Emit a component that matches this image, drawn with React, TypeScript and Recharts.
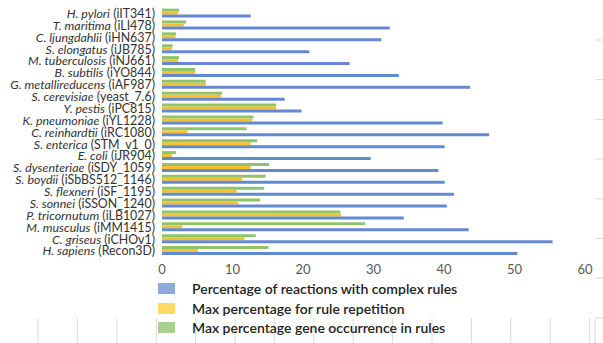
import { BarChart, Bar, XAxis, YAxis } from 'recharts';

const species = [
  'H. pylori', 'T. maritima', 'C. ljungdahlii', 'S. elongatus', 'M. tuberculosis',
  'B. subtilis', 'G. metallireducens', 'S. cerevisiae', 'Y. pestis', 'K. pneumoniae',
  'C. reinhardtii', 'S. enterica', 'E. coli', 'S. dysenteriae', 'S. boydii',
  'S. flexneri', 'S. sonnei', 'P. tricornutum', 'M. musculus', 'C. griseus', 'H. sapiens',
];
const models = [
  'iIT341', 'iLI478', 'iHN637', 'iJB785', 'iNJ661',
  'iYO844', 'iAF987', 'yeast_7.6', 'iPC815', 'iYL1228',
  'iRC1080', 'STM_v1_0', 'iJR904', 'iSDY_1059', 'iSbBS512_1146',
  'iSF_1195', 'iSSON_1240', 'iLB1027', 'iMM1415', 'iCHOv1', 'Recon3D',
];
const complexRules = [
  12.6, 32.3, 31.1, 20.9, 26.6, 33.6, 43.7, 17.4, 19.8, 39.8,
  46.4, 40.1, 29.6, 39.2, 40.1, 41.4, 40.4, 34.3, 43.5, 55.4, 50.4,
];
const ruleRepetition = [
  2.3, 3.1, 1.9, 1.4, 2.3, 4.7, 6.2, 8.4, 16.2, 12.8,
  3.6, 12.6, 1.4, 12.6, 11.4, 10.6, 10.8, 25.4, 2.9, 11.7, 5.1,
];
const geneOccurrence = [
  2.4, 3.4, 2.0, 1.5, 2.4, 4.7, 6.2, 8.5, 16.2, 13.0,
  12.0, 13.5, 2.0, 15.2, 14.7, 14.5, 13.9, 25.3, 28.8, 13.3, 15.1,
];
const xTicks = [0, 10, 20, 30, 40, 50, 60];

const seriesInfo = [
  { key: 'complex', label: 'Percentage of reactions with complex rules', bar: '#6389d2', swatch: '#8eaadb' },
  { key: 'repetition', label: 'Max percentage for rule repetition', bar: '#f5c12e', swatch: '#ffd966' },
  { key: 'occurrence', label: 'Max percentage gene occurrence in rules', bar: '#8fc46b', swatch: '#a9d08e' },
];

const data = species.map((s, i) => ({
  name: s,
  model: models[i],
  complex: complexRules[i],
  repetition: ruleRepetition[i],
  occurrence: geneOccurrence[i],
}));

const SpeciesTick = (props: any) => {
  const { x, y, payload } = props;
  const row = data.find((d) => d.name === payload.value);
  return (
    <text x={x} y={y} dy="0.35em" textAnchor="end" fontSize={12.4} fill="#333" fontFamily="Lato, sans-serif">
      <tspan fontStyle="italic">{payload.value}</tspan>
      <tspan> ({row ? row.model : ''})</tspan>
    </text>
  );
};

export default function App() {
  // faint table lines from the source figure
  const gridXs = Array.from({ length: 15 }, (_, i) => 38 + i * 39.4);
  const edgeYs = Array.from({ length: 7 }, (_, i) => 40 + i * 39.7);

  return (
    <div style={{ position: 'absolute', left: 0, top: 0, width: 603, height: 343, background: '#fff' }}>
      <svg width={603} height={343} style={{ position: 'absolute', left: 0, top: 0 }}>
        {gridXs.map((x) => (
          <line key={x} x1={x} x2={x} y1={318} y2={343} stroke="#d9d9d9" strokeWidth={1} />
        ))}
        {edgeYs.map((y) => (
          <line key={y} x1={595} x2={603} y1={y} y2={y} stroke="#d9d9d9" strokeWidth={1} />
        ))}
        <line x1={595} x2={603} y1={318} y2={318} stroke="#d9d9d9" />
        <line x1={595} x2={595} y1={318} y2={343} stroke="#d9d9d9" />
      </svg>
      <div style={{ position: 'absolute', left: 0, top: 0 }}>
        <BarChart
          width={603}
          height={343}
          data={data}
          layout="vertical"
          margin={{ top: 7.6, right: 18, bottom: 66, left: 0 }}
          barCategoryGap={1}
          barGap={0}
        >
          <XAxis
            type="number"
            domain={[0, 60]}
            ticks={xTicks}
            axisLine={false}
            tickLine={false}
            height={20}
            tick={{ fill: '#595959', fontSize: 13, fontFamily: 'Lato, sans-serif' }}
          />
          <YAxis
            type="category"
            dataKey="name"
            width={162}
            axisLine={false}
            tickLine={false}
            tickSize={0}
            tickMargin={7}
            interval={0}
            tick={<SpeciesTick />}
          />
          <Bar dataKey="occurrence" fill={seriesInfo[2].bar} isAnimationActive={false} />
          <Bar dataKey="repetition" fill={seriesInfo[1].bar} isAnimationActive={false} />
          <Bar dataKey="complex" fill={seriesInfo[0].bar} isAnimationActive={false} />
        </BarChart>
      </div>
      <div
        style={{
          position: 'absolute', left: 158, top: 279,
          fontFamily: 'Lato, sans-serif', fontSize: 14, fontWeight: 600, color: '#222',
        }}
      >
        {seriesInfo.map((s) => (
          <div key={s.key} style={{ display: 'flex', alignItems: 'center', height: 19.5 }}>
            <span style={{ width: 17, height: 11, background: s.swatch, display: 'inline-block', marginRight: 17 }} />
            <span>{s.label}</span>
          </div>
        ))}
      </div>
    </div>
  );
}
